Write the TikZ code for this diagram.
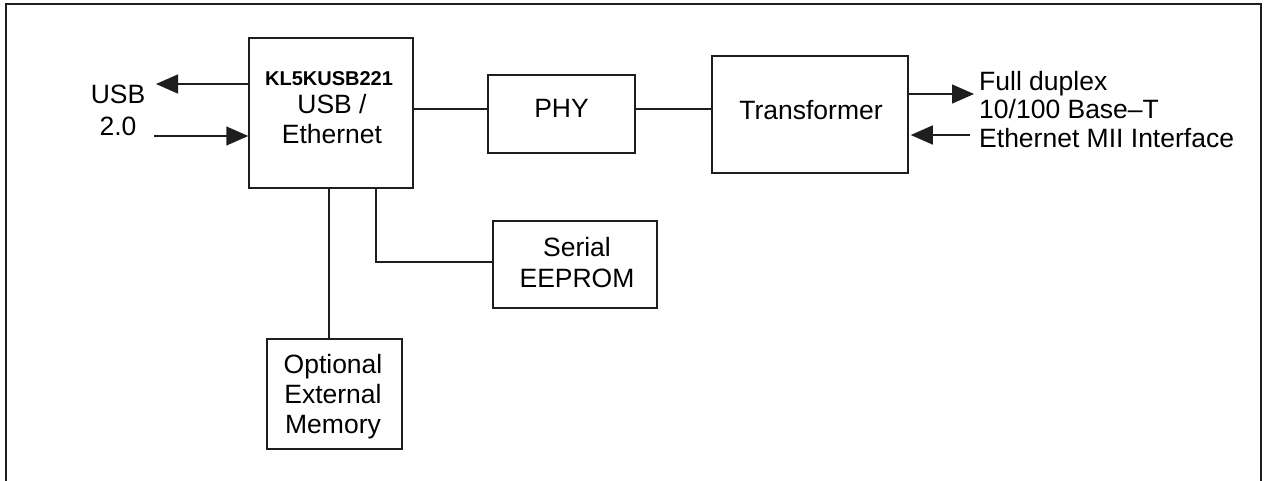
\documentclass[tikz,border=0pt]{standalone}
\usepackage{fontspec}
\setmainfont{Liberation Sans}
\usetikzlibrary{arrows.meta,calc}
\definecolor{ink}{RGB}{30,30,30}
\tikzset{
  blk/.style={draw=ink, line width=1.5pt, inner sep=0pt, fill=none},
  txt/.style={inner sep=0pt, anchor=base, text=black, font=\fontsize{26.5}{30}\selectfont},
  boldtxt/.style={inner sep=0pt, anchor=base, text=black, font=\fontsize{20}{24}\selectfont\bfseries},
  wire/.style={draw=ink, line width=1.5pt},
  arr/.style={draw=ink, line width=1.5pt, -{Triangle[length=22pt,width=19pt]}},
}
\begin{document}
\begin{tikzpicture}[x=1pt,y=-1pt]
\useasboundingbox (0,0) rectangle (1264,480);
% outer frame
\draw[draw=ink, line width=2pt] (6,3.5) rectangle (1261,495);

% boxes
\node[blk, minimum width=164pt, minimum height=150pt] (main) at (331,113) {};
\node[blk, minimum width=147pt, minimum height=78pt] (phy) at (561.5,114) {};
\node[blk, minimum width=196pt, minimum height=117pt] (trans) at (810,114.5) {};
\node[blk, minimum width=164pt, minimum height=87pt] (eeprom) at (575,264.5) {};
\node[blk, minimum width=135pt, minimum height=110pt] (mem) at (334.5,394) {};

% box texts
\node[boldtxt] (t1) at (329,85) {KL5KUSB221};
\node[txt] (t2) at (332,113) {USB /};
\node[txt] (t3) at (332,143) {Ethernet};
\node[txt] (tphy) at (561.5,117) {PHY};
\node[txt] (ttr) at (811,119) {Transformer};
\node[txt] (te1) at (577,256) {Serial};
\node[txt] (te2) at (577,287) {EEPROM};
\node[txt] (tm1) at (333,373) {Optional};
\node[txt] (tm2) at (333,403) {External};
\node[txt] (tm3) at (333,433) {Memory};

% side texts
\node[txt] (usb1) at (118,103) {USB};
\node[txt] (usb2) at (118,135) {2.0};
\node[txt, anchor=base west] (eth1) at (979,90) {Full duplex};
\node[txt, anchor=base west] (eth2) at (979,118) {10/100 Base–T};
\node[txt, anchor=base west] (eth3) at (979,147) {Ethernet MII Interface};

% helper coordinates
\coordinate (l1) at (0,109);
\coordinate (usbout) at (156,84);
\coordinate (usbin) at (154,136);
\coordinate (ethout) at (974,94);
\coordinate (ethin) at (970,135);
\coordinate (eeline) at (376,262);
\coordinate (memx) at (329,0);

% connectors
\draw[wire] (main.east |- l1) -- (phy.west |- l1);
\draw[wire] (phy.east |- l1) -- (trans.west |- l1);
\draw[arr] (main.west |- usbout) -- (usbout);
\draw[arr] (usbin) -- (main.west |- usbin);
\draw[arr] (trans.east |- ethout) -- (ethout);
\draw[arr] (ethin) -- ($(trans.east |- ethin)+(2,0)$);
\draw[wire] (main.south -| eeline) |- (eeprom.west |- eeline);
\draw[wire] (main.south -| memx) -- (mem.north -| memx);
\end{tikzpicture}
\end{document}
